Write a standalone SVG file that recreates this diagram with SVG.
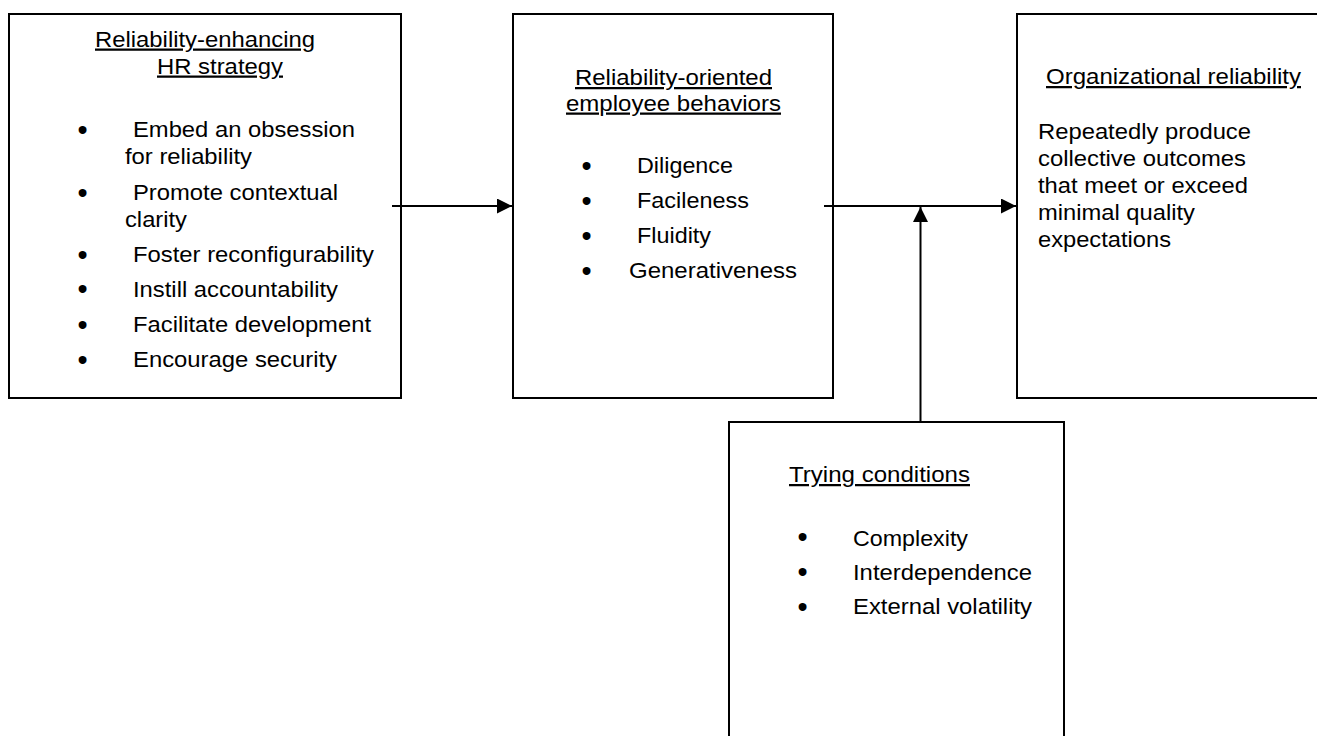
<svg xmlns="http://www.w3.org/2000/svg" width="1317" height="736" viewBox="0 0 1317 736">
<style>
.box{fill:#fff;stroke:#000;stroke-width:2}
.t{font-family:"Liberation Sans",Arial,sans-serif;font-size:22.5px;fill:#000}
.u{text-decoration:underline}
.b{font-family:"Liberation Sans",Arial,sans-serif;font-size:29px;fill:#000;text-anchor:middle}
.c{stroke:#000;stroke-width:2;fill:none}
</style>
<defs>
<marker id="ah" viewBox="0 0 15 15" refX="15" refY="7.5" markerWidth="15" markerHeight="15" markerUnits="userSpaceOnUse" orient="auto">
<path d="M0,0 L15,7.5 L0,15 Z" fill="#000"/>
</marker>
</defs>
<rect width="1317" height="736" fill="#fff"/>
<g id="hr-strategy">
<rect class="box" x="9" y="14" width="392" height="384"/>
<text class="t u" x="95" y="46.5" textLength="220" lengthAdjust="spacingAndGlyphs">Reliability-enhancing</text>
<text class="t u" x="157" y="73.5" textLength="126" lengthAdjust="spacingAndGlyphs">HR strategy</text>
<text class="b" x="82.5" y="139.5">•</text>
<text class="t" x="133" y="137" textLength="222" lengthAdjust="spacingAndGlyphs">Embed an obsession</text>
<text class="t" x="125" y="164" textLength="127" lengthAdjust="spacingAndGlyphs">for reliability</text>
<text class="b" x="82.5" y="203">•</text>
<text class="t" x="133" y="200" textLength="205" lengthAdjust="spacingAndGlyphs">Promote contextual</text>
<text class="t" x="125" y="227" textLength="62" lengthAdjust="spacingAndGlyphs">clarity</text>
<text class="b" x="82.5" y="264.5">•</text>
<text class="t" x="133" y="262" textLength="241" lengthAdjust="spacingAndGlyphs">Foster reconfigurability</text>
<text class="b" x="82.5" y="299">•</text>
<text class="t" x="133" y="297" textLength="205" lengthAdjust="spacingAndGlyphs">Instill accountability</text>
<text class="b" x="82.5" y="334.5">•</text>
<text class="t" x="133" y="332" textLength="238" lengthAdjust="spacingAndGlyphs">Facilitate development</text>
<text class="b" x="82.5" y="369.5">•</text>
<text class="t" x="133" y="367" textLength="204" lengthAdjust="spacingAndGlyphs">Encourage security</text>
</g>
<g id="employee-behaviors">
<rect class="box" x="513" y="14" width="320" height="384"/>
<text class="t u" x="575" y="85" textLength="197" lengthAdjust="spacingAndGlyphs">Reliability-oriented</text>
<text class="t u" x="566" y="110.5" textLength="215" lengthAdjust="spacingAndGlyphs">employee behaviors</text>
<text class="b" x="586.5" y="176">•</text>
<text class="t" x="637" y="173" textLength="96" lengthAdjust="spacingAndGlyphs">Diligence</text>
<text class="b" x="586.5" y="211">•</text>
<text class="t" x="637" y="208" textLength="112" lengthAdjust="spacingAndGlyphs">Facileness</text>
<text class="b" x="586.5" y="246">•</text>
<text class="t" x="637" y="243" textLength="74" lengthAdjust="spacingAndGlyphs">Fluidity</text>
<text class="b" x="586.5" y="281">•</text>
<text class="t" x="629" y="278" textLength="168" lengthAdjust="spacingAndGlyphs">Generativeness</text>
</g>
<g id="org-reliability">
<rect class="box" x="1017" y="14" width="320" height="384"/>
<text class="t u" x="1046" y="84" textLength="255" lengthAdjust="spacingAndGlyphs">Organizational reliability</text>
<text class="t" x="1038" y="139" textLength="213" lengthAdjust="spacingAndGlyphs">Repeatedly produce</text>
<text class="t" x="1038" y="166" textLength="208" lengthAdjust="spacingAndGlyphs">collective outcomes</text>
<text class="t" x="1038" y="193" textLength="210" lengthAdjust="spacingAndGlyphs">that meet or exceed</text>
<text class="t" x="1038" y="220" textLength="157" lengthAdjust="spacingAndGlyphs">minimal quality</text>
<text class="t" x="1038" y="247" textLength="133" lengthAdjust="spacingAndGlyphs">expectations</text>
</g>
<g id="trying-conditions">
<rect class="box" x="729" y="422" width="335" height="340"/>
<text class="t u" x="789" y="482" textLength="181" lengthAdjust="spacingAndGlyphs">Trying conditions</text>
<text class="b" x="802.5" y="547">•</text>
<text class="t" x="853" y="545.5" textLength="115" lengthAdjust="spacingAndGlyphs">Complexity</text>
<text class="b" x="802.5" y="582">•</text>
<text class="t" x="853" y="580" textLength="179" lengthAdjust="spacingAndGlyphs">Interdependence</text>
<text class="b" x="802.5" y="616.5">•</text>
<text class="t" x="853" y="614" textLength="179" lengthAdjust="spacingAndGlyphs">External volatility</text>
</g>
<g id="connectors">
<line class="c" x1="392" y1="206" x2="512" y2="206" marker-end="url(#ah)"/>
<line class="c" x1="824" y1="206" x2="1016" y2="206" marker-end="url(#ah)"/>
<line class="c" x1="920.5" y1="421" x2="920.5" y2="207" marker-end="url(#ah)"/>
</g>
</svg>
